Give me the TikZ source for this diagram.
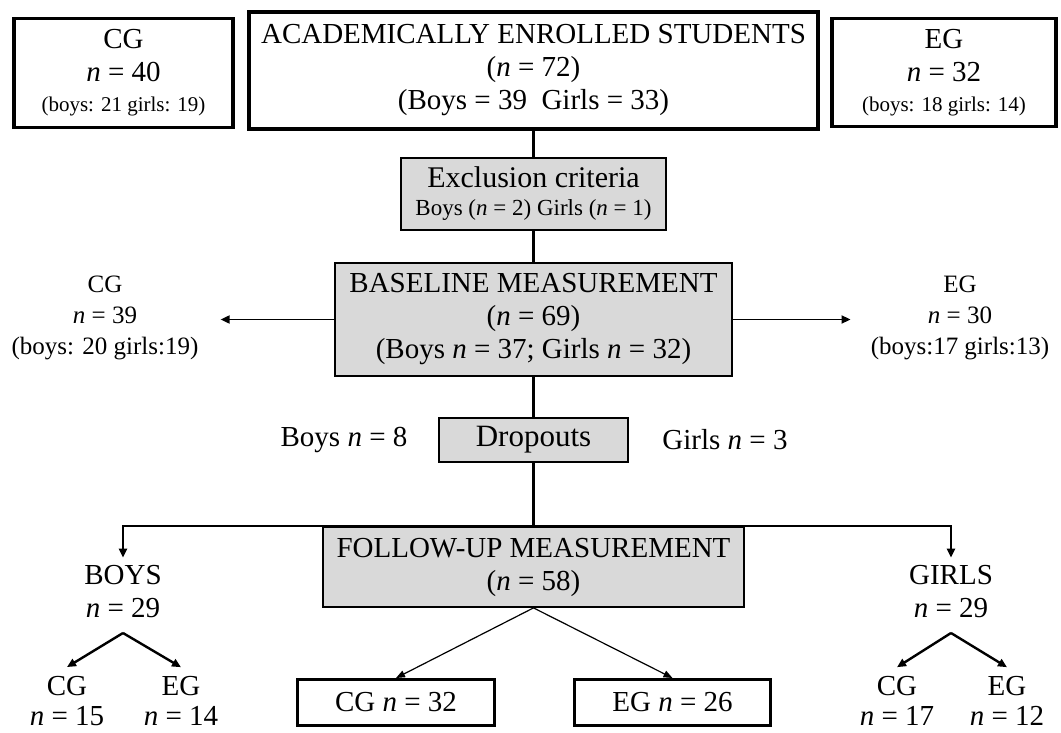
\documentclass[tikz,border=0pt]{standalone}
\usepackage{fontspec}
\setmainfont{Liberation Serif}
\usepackage{tikz}
\usetikzlibrary{arrows.meta}
\definecolor{boxgray}{RGB}{217, 217, 217}
\newcommand{\nn}{\textit{n}}
\newcommand{\bigsize}{\fontsize{29}{33}\selectfont}
\newcommand{\sidesize}{\fontsize{25}{31}\selectfont}
\newcommand{\smallsize}{\fontsize{21}{24}\selectfont}

\begin{document}
\begin{tikzpicture}[x=1pt, y=-1pt,
  framebox/.style={draw, line width=3.5, fill=white, inner sep=0, align=center, font=\bigsize},
  greybox/.style={draw, line width=1.8, fill=boxgray, inner sep=0, align=center, font=\bigsize},
  sidetext/.style={align=center, inner sep=2, font=\bigsize},
  conn/.style={line width=2.4},
  tip/.style={-{Triangle[length=9, width=8]}},
  thinconn/.style={line width=1.2, -{Triangle[length=9, width=7]}}]
  \useasboundingbox (0, 0) rectangle (1061, 733);

  % enrolment
  \node[framebox, minimum width=219, minimum height=109] (cgtop) at (123.5, 73)
    {CG\\ \nn{} = 40\\[-3pt] {\smallsize (boys: 21 girls: 19)}};
  \node[framebox, minimum width=569, minimum height=117] (enrolled) at (533.5, 70.5)
    {ACADEMICALLY ENROLLED STUDENTS\\ (\nn{} = 72)\\ (Boys = 39\ \ Girls = 33)};
  \node[framebox, minimum width=224, minimum height=108] (egtop) at (944, 72.5)
    {EG\\ \nn{} = 32\\[-3pt] {\smallsize (boys: 18 girls: 14)}};

  \node[greybox, minimum width=265, minimum height=72, font=\fontsize{30}{33}\selectfont] (excl) at (533.5, 194)
    {Exclusion criteria\\[-5pt] {\fontsize{23}{26}\selectfont Boys (\nn{} = 2) Girls (\nn{} = 1)}};

  % baseline
  \node[greybox, minimum width=397, minimum height=113] (base) at (533.5, 319.5)
    {BASELINE MEASUREMENT\\ (\nn{} = 69)\\ (Boys \nn{} = 37; Girls \nn{} = 32)};
  \node[sidetext, font=\sidesize, inner xsep=22] (cgbase) at (105, 318)
    {CG\\ \nn{} = 39\\ (boys: 20 girls:19)};
  \node[sidetext, font=\sidesize, inner xsep=20] (egbase) at (960, 318)
    {EG\\ \nn{} = 30\\ (boys:17 girls:13)};

  \node[greybox, minimum width=189, minimum height=44, font=\fontsize{31}{33}\selectfont] (drop) at (533.5, 440) {Dropouts};
  \node[sidetext] (boysdrop) at (344, 440) {Boys \nn{} = 8};
  \node[sidetext] (girlsdrop) at (725, 440) {Girls \nn{} = 3};

  % follow-up
  \node[greybox, minimum width=421, minimum height=80] (follow) at (533.5, 567)
    {FOLLOW-UP MEASUREMENT\\ (\nn{} = 58)};
  \node[framebox, line width=3, minimum width=197, minimum height=46] (cg32) at (396, 702.5)
    {CG \nn{} = 32};
  \node[framebox, line width=3, minimum width=196, minimum height=46] (eg26) at (672.5, 702.5)
    {EG \nn{} = 26};

  \node[sidetext, inner ysep=8] (boys) at (123, 592) {BOYS\\ \nn{} = 29};
  \node[sidetext, inner ysep=8] (girls) at (951, 592) {GIRLS\\ \nn{} = 29};
  \coordinate (bfork) at (123, 633);
  \coordinate (gfork) at (951, 633);
  \node[sidetext, font=\fontsize{29}{30}\selectfont, inner ysep=1] (bcg) at (67, 701) {CG\\ \nn{} = 15};
  \node[sidetext, font=\fontsize{29}{30}\selectfont, inner ysep=1] (beg) at (181, 701) {EG\\ \nn{} = 14};
  \node[sidetext, font=\fontsize{29}{30}\selectfont, inner ysep=1] (gcg) at (897, 701) {CG\\ \nn{} = 17};
  \node[sidetext, font=\fontsize{29}{30}\selectfont, inner ysep=1] (geg) at (1007, 701) {EG\\ \nn{} = 12};

  % connectors
  \draw[conn] (enrolled) -- (excl);
  \draw[conn] (excl) -- (base);
  \draw[conn] (base) -- (drop);
  \draw[conn] (drop.south) -- (follow.north);
  \draw[conn, line width=1.8, tip] (base.west) -- (base.west -| cgbase.east);
  \draw[conn, line width=1.8, tip] (base.east) -- (base.east -| egbase.west);
  \draw[conn, tip] (follow.north) -| (boys.north);
  \draw[conn, tip] (follow.north) -| (girls.north);
  \draw[thinconn] (follow.south) -- (cg32.north);
  \draw[thinconn] (follow.south) -- (eg26.north);
  \foreach \f/\a/\b in {bfork/bcg/beg, gfork/gcg/geg} {
    \draw[conn, tip] (\f) -- ([yshift=8]\a.north);
    \draw[conn, tip] (\f) -- ([yshift=8]\b.north);
  }
\end{tikzpicture}
\end{document}
